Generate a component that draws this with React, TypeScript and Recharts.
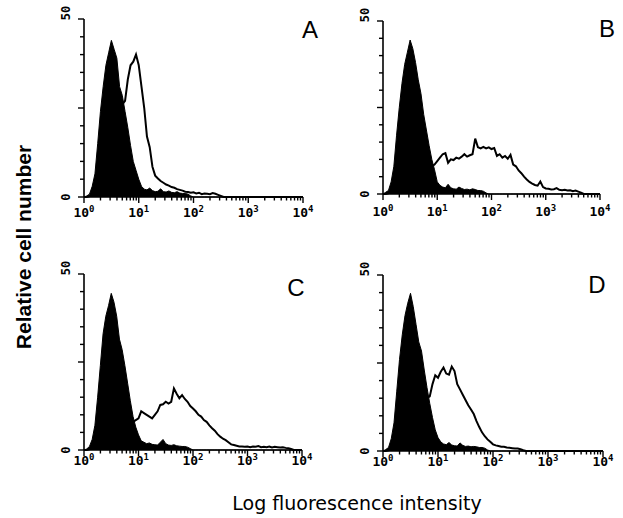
import { ComposedChart, Area, Line, XAxis, YAxis } from 'recharts';

// bin centres, in decades (log10 of fluorescence)
const X_BINS = [
  0, 0.05, 0.1, 0.15, 0.2, 0.25, 0.3, 0.35, 0.4, 0.45,
  0.5, 0.55, 0.6, 0.65, 0.7, 0.75, 0.8, 0.85, 0.9, 0.95,
  1.0, 1.05, 1.1, 1.15, 1.2, 1.25, 1.3, 1.35, 1.4, 1.45,
  1.5, 1.55, 1.6, 1.65, 1.7, 1.75, 1.8, 1.85, 1.9, 1.95,
  2.0, 2.05, 2.1, 2.15, 2.2, 2.25, 2.3, 2.35, 2.4, 2.45,
  2.5, 2.55, 2.6, 2.65, 2.7, 2.75, 2.8, 2.85, 2.9, 2.95,
  3.0, 3.05, 3.1, 3.15, 3.2, 3.25, 3.3, 3.35, 3.4, 3.45,
  3.5, 3.55, 3.6, 3.65, 3.7, 3.75, 3.8, 3.85, 3.9, 3.95,
  4.0,
];

const MAJOR_DECADES = [0, 1, 2, 3, 4];
const MINOR_OFFSETS = [0.301, 0.477, 0.602, 0.699, 0.778, 0.845, 0.903, 0.954];
const Y_TICKS = [0, 5, 10, 15, 20, 25, 30, 35, 40, 45, 50];
const Y_LABELED = [0, 50];

// panel A
const controlA = [
  0, 0.3, 0.8, 3, 6.5, 15, 24, 31, 37, 40.5,
  44, 41.5, 39, 31, 28.5, 24, 19.5, 14.5, 10, 7.5,
  5, 3, 2.2, 2, 2.5, 1.8, 1.5, 1.6, 2.3, 1.5,
  1.4, 1.7, 1.3, 1.2, 1.5, 1.1, 1, 1, 0.8, 0.3,
  0, 0, 0, 0, 0, 0, 0, 0, 0, 0,
  0, 0, 0, 0, 0, 0, 0, 0, 0, 0,
  0, 0, 0, 0, 0, 0, 0, 0, 0, 0,
  0, 0, 0, 0, 0, 0, 0, 0, 0, 0,
  0,
];
const stainedA = [
  0, 0, 0.2, 0.5, 1, 2, 3.5, 5, 8, 11,
  15, 19, 23, 25, 26, 27, 33, 37, 38, 40,
  37, 31, 25, 17, 14, 8.5, 6, 5.2, 4.5, 4,
  3.5, 3.2, 2.8, 2.6, 2.2, 2, 1.8, 1.5, 1.4, 1.2,
  1.3, 1, 1.2, 0.8, 1, 0.9, 0.8, 1.1, 0.9, 0.6,
  0.3, 0, 0, 0, 0, 0, 0, 0, 0, 0,
  0, 0, 0, 0, 0, 0, 0, 0, 0, 0,
  0, 0, 0, 0, 0, 0, 0, 0, 0, 0,
  0,
];

// panel B
const controlB = [
  0, 0.5, 1, 3.5, 8, 17, 25, 32, 37.5, 41,
  44.5, 42, 38, 33, 29, 23, 18.5, 14, 10, 7,
  3.5, 2.5, 2, 1.8, 2.8, 1.8, 1.5, 1.4, 2, 1.6,
  1.3, 1.4, 1.2, 1.5, 1.3, 1, 1, 0.8, 0.3, 0,
  0, 0, 0, 0, 0, 0, 0, 0, 0, 0,
  0, 0, 0, 0, 0, 0, 0, 0, 0, 0,
  0, 0, 0, 0, 0, 0, 0, 0, 0, 0,
  0, 0, 0, 0, 0, 0, 0, 0, 0, 0,
  0,
];
const stainedB = [
  0, 0, 0.2, 0.5, 1, 1.5, 2, 2.5, 3, 3.5,
  4, 4.5, 5, 5.5, 6, 6.5, 7, 7.5, 8, 8.5,
  9.5, 10.5, 11.5, 11.8, 9, 10, 9.8, 10.5, 10.2, 10.8,
  11.5, 10.8, 11.2, 11.5, 16, 13.5, 13.2, 13.6, 13.2, 13.5,
  13, 13.3, 11, 11.5, 10.5, 11, 10.2, 11.3, 8.5, 8,
  6.8, 6, 5, 4.2, 3.5, 3, 2.6, 2.4, 3.6, 2,
  1.6, 1.5, 1.3, 1.4, 1.7, 1.2, 1.1, 1.2, 1, 1.1,
  0.8, 1, 0.7, 0.4, 0, 0, 0, 0, 0, 0,
  0,
];

// panel C
const controlC = [
  0, 0.3, 1, 3, 7, 15, 24, 33, 38, 41,
  44.5, 42, 38, 31.5, 28.5, 24, 19, 14, 9.5, 6.5,
  4.3, 2.6, 2.2, 1.8, 2, 1.6, 1.5, 1.4, 2.2, 3,
  1.8, 1.4, 1.3, 1.5, 1.2, 1.1, 1, 1, 0.8, 0.4,
  0, 0, 0, 0, 0, 0, 0, 0, 0, 0,
  0, 0, 0, 0, 0, 0, 0, 0, 0, 0,
  0, 0, 0, 0, 0, 0, 0, 0, 0, 0,
  0, 0, 0, 0, 0, 0, 0, 0, 0, 0,
  0,
];
const stainedC = [
  0, 0, 0.2, 0.5, 1, 1.5, 2, 2.5, 3, 3.5,
  4, 4.5, 5, 5.5, 6, 6.5, 7, 7.5, 8, 8.5,
  9, 11, 10.5, 10, 9.5, 9, 10, 11, 12.8, 13,
  13.7, 13.2, 13.7, 17.5, 16, 14.7, 15.6, 14.5, 13.7, 12.5,
  11.8, 11, 10, 9.5, 8.5, 8, 7, 6.2, 5.5, 4.5,
  3.8, 3.2, 2.8, 2.2, 1.6, 1.4, 1.2, 1, 1, 0.9,
  1, 0.8, 1, 0.9, 1.1, 0.8, 0.9, 0.8, 1, 0.7,
  0.9, 0.8, 0.7, 0.8, 0.6, 0.5, 0.3, 0, 0, 0,
  0,
];

// panel D
const controlD = [
  0, 0.4, 1, 3.5, 8, 17, 26, 33, 38.5, 42,
  44.8, 41, 36, 31, 28.4, 23, 18, 13.5, 9.5, 6,
  3.8, 2.6, 2, 1.8, 2.4, 1.7, 1.5, 1.4, 2.3, 1.6,
  1.3, 1.4, 1.2, 1.3, 1.2, 1, 1, 0.8, 0.3, 0,
  0, 0, 0, 0, 0, 0, 0, 0, 0, 0,
  0, 0, 0, 0, 0, 0, 0, 0, 0, 0,
  0, 0, 0, 0, 0, 0, 0, 0, 0, 0,
  0, 0, 0, 0, 0, 0, 0, 0, 0, 0,
  0,
];
const stainedD = [
  0, 0, 0.2, 0.5, 1, 2, 3, 4, 5, 6.5,
  8, 9.5, 11, 12, 13, 14, 15, 15.5, 19, 21.5,
  20.8, 22.5, 23.7, 22, 21.7, 24, 22.7, 19, 17.5, 16,
  14.5, 13, 11.8, 10.5, 8.5, 6.8, 5.3, 4.2, 3.3, 2.6,
  1.9, 1.6, 1.4, 1.2, 1.2, 1, 0.9, 0.8, 0.7, 0.7,
  0.5, 0.2, 0, 0, 0, 0, 0, 0, 0, 0,
  0, 0, 0, 0, 0, 0, 0, 0, 0, 0,
  0, 0, 0, 0, 0, 0, 0, 0, 0, 0,
  0,
];

const X_TICKS = [
  ...MAJOR_DECADES,
  ...MAJOR_DECADES.slice(0, -1).flatMap((d) => MINOR_OFFSETS.map((o) => d + o)),
].sort((a, b) => a - b);

const PAD_L = 40;
const PAD_R = 12;
const PAD_T = 16;
const PAD_B = 26;
const TICK_FONT = '"DejaVu Sans Mono", monospace';

function XTick(props: any) {
  const { x, y, payload, gap } = props;
  const v = payload.value;
  const major = Number.isInteger(v);
  return (
    <g>
      <line x1={x} x2={x} y1={y} y2={y + (major ? 6 : 3.5)} stroke="#000" strokeWidth={1.4} />
      {major && (
        <text x={x} y={y + gap} textAnchor="middle" fontFamily={TICK_FONT} fontWeight="bold" fontSize={13} fill="#000">
          10<tspan dy={-5} fontSize={9}>{v}</tspan>
        </text>
      )}
    </g>
  );
}

function YTick(props: any) {
  const { x, y, payload } = props;
  const v = payload.value;
  const len = v === 25 || v === 0 || v === 50 ? 6 : 4;
  const cx = x - 14;
  const cy = v === 50 ? y - 6 : y;
  return (
    <g>
      <line x1={x - len} x2={x} y1={y} y2={y} stroke="#000" strokeWidth={1.4} />
      {Y_LABELED.includes(v) && (
        <text x={cx} y={cy} transform={`rotate(-90 ${cx} ${cy})`} textAnchor="middle" fontFamily={TICK_FONT} fontWeight="bold" fontSize={12} fill="#000">
          {v}
        </text>
      )}
    </g>
  );
}

function Panel({ control, stained, left, top, width, height, labelGap }: any) {
  const rows = X_BINS.map((x, i) => ({ x, control: control[i], stained: stained[i] }));
  return (
    <div style={{ position: 'absolute', left: left - PAD_L, top: top - PAD_T }}>
      <ComposedChart
        width={width + PAD_L + PAD_R}
        height={height + PAD_T + PAD_B}
        data={rows}
        margin={{ top: PAD_T, right: PAD_R, bottom: 0, left: 0 }}
      >
        <XAxis
          dataKey="x"
          type="number"
          domain={[0, 4]}
          ticks={X_TICKS}
          interval={0}
          height={PAD_B}
          tickSize={0}
          tickMargin={0}
          tickLine={false}
          axisLine={{ stroke: '#000', strokeWidth: 1.6 }}
          tick={(p: any) => <XTick {...p} gap={labelGap} />}
        />
        <YAxis
          type="number"
          domain={[0, 50]}
          ticks={Y_TICKS}
          interval={0}
          width={PAD_L}
          tickSize={0}
          tickMargin={0}
          tickLine={false}
          axisLine={{ stroke: '#000', strokeWidth: 1.6 }}
          tick={(p: any) => <YTick {...p} />}
        />
        <Line dataKey="stained" type="linear" stroke="#000" strokeWidth={2} dot={false} activeDot={false} isAnimationActive={false} />
        <Area dataKey="control" type="linear" stroke="#000" strokeWidth={1} fill="#000" fillOpacity={1} dot={false} activeDot={false} isAnimationActive={false} />
      </ComposedChart>
    </div>
  );
}

const PANELS = [
  { letter: 'A', control: controlA, stained: stainedA, left: 84, top: 19, width: 219, height: 178, labelGap: 20, lx: 310, ly: 18 },
  { letter: 'B', control: controlB, stained: stainedB, left: 383, top: 21, width: 217, height: 173, labelGap: 22, lx: 607, ly: 17 },
  { letter: 'C', control: controlC, stained: stainedC, left: 84, top: 274, width: 218, height: 176, labelGap: 15, lx: 296, ly: 276 },
  { letter: 'D', control: controlD, stained: stainedD, left: 383, top: 275, width: 220, height: 176, labelGap: 15, lx: 597, ly: 273 },
];

export default function App() {
  return (
    <div style={{ position: 'absolute', left: 0, top: 0, width: 623, height: 518, background: '#fff', overflow: 'hidden' }}>
      {PANELS.map((p) => (
        <Panel key={p.letter} {...p} />
      ))}
      {PANELS.map((p) => (
        <div
          key={'l' + p.letter}
          style={{
            position: 'absolute',
            left: p.lx - 15,
            top: p.ly,
            width: 30,
            lineHeight: '24px',
            textAlign: 'center',
            fontFamily: '"Liberation Sans", Arial, sans-serif',
            fontSize: 24,
            color: '#000',
          }}
        >
          {p.letter}
        </div>
      ))}
      <div
        style={{
          position: 'absolute',
          left: 24 - 130,
          top: 247 - 12,
          width: 260,
          height: 24,
          lineHeight: '24px',
          textAlign: 'center',
          transform: 'rotate(-90deg)',
          fontFamily: '"Liberation Sans", Arial, sans-serif',
          fontWeight: 'bold',
          fontSize: 21,
          color: '#000',
        }}
      >
        Relative cell number
      </div>
      <div
        style={{
          position: 'absolute',
          left: 157,
          top: 492,
          width: 400,
          lineHeight: '22px',
          textAlign: 'center',
          fontFamily: '"DejaVu Sans", sans-serif',
          fontSize: 19,
          color: '#000',
        }}
      >
        Log fluorescence intensity
      </div>
    </div>
  );
}
